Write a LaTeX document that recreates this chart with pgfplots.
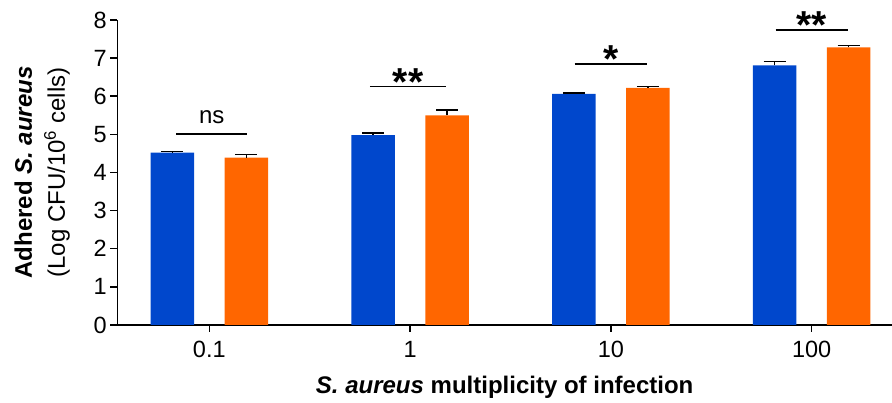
\documentclass[border=0pt]{standalone}
\usepackage{fontspec}
\setmainfont{Liberation Sans}
\usepackage{pgfplots}
\pgfplotsset{compat=1.18}
\definecolor{cblue}{RGB}{0,71,204}
\definecolor{corange}{RGB}{255,102,0}
\begin{document}
\begin{tikzpicture}
\begin{axis}[
  at={(0pt,0pt)}, anchor=south west,
  scale only axis, width=774.7pt, height=305pt,
  xmin=-0.458, xmax=3.4, ymin=0, ymax=8,
  axis lines*=left,
  xtick={0,1,2,3}, xticklabels={0.1,1,10,100},
  ytick={0,1,...,8},
  tick align=outside, major tick length=7pt,
  tick style={line width=1.5pt, black},
  axis line style={line width=1.5pt, black},
  tick label style={font=\fontsize{23.5}{26}\selectfont},
  xticklabel style={yshift=-6pt},
  /pgf/number format/assume math mode=true,
  clip=false,
  xlabel={\textbf{\textit{S. aureus} multiplicity of infection}},
  ylabel={\textbf{Adhered \textit{S. aureus}}\\(Log CFU/10\textsuperscript{6} cells)},
  ylabel style={align=center, font=\fontsize{24}{33}\selectfont, yshift=17pt},
  xlabel style={font=\fontsize{24}{28}\selectfont, yshift=-11pt},
  ybar, bar width=43.5pt,
]
\addplot[ybar, bar shift=-37pt, fill=cblue, draw=none,
  error bars/.cd, y dir=plus, y explicit,
  error bar style={line width=1.5pt, black},
  error mark options={rotate=90, mark size=11pt, line width=1.5pt, black}]
  coordinates {(0,4.52) +- (0,0.03) (1,4.98) +- (0,0.05) (2,6.06) +- (0,0.03) (3,6.81) +- (0,0.10)};
\addplot[ybar, bar shift=37pt, fill=corange, draw=none,
  error bars/.cd, y dir=plus, y explicit,
  error bar style={line width=1.5pt, black},
  error mark options={rotate=90, mark size=11pt, line width=1.5pt, black}]
  coordinates {(0,4.39) +- (0,0.08) (1,5.50) +- (0,0.14) (2,6.22) +- (0,0.03) (3,7.28) +- (0,0.05)};
% significance annotations
\draw[line width=1.5pt] (axis cs:-0.165,5.01) -- (axis cs:0.19,5.01)
  node[pos=0.5, anchor=base, inner sep=0pt, yshift=10pt, font=\fontsize{24}{28}\selectfont] {ns};
\draw[line width=1.5pt] (axis cs:0.8,6.25) -- (axis cs:1.18,6.25)
  node[pos=0.5, anchor=base, inner sep=0pt, yshift=-9pt, font=\fontsize{39}{42}\selectfont\bfseries] {**};
\draw[line width=1.5pt] (axis cs:1.82,6.85) -- (axis cs:2.18,6.85)
  node[pos=0.5, anchor=base, inner sep=0pt, yshift=-9pt, font=\fontsize{39}{42}\selectfont\bfseries] {*};
\draw[line width=1.5pt] (axis cs:2.82,7.74) -- (axis cs:3.18,7.74)
  node[pos=0.5, anchor=base, inner sep=0pt, yshift=-9pt, font=\fontsize{39}{42}\selectfont\bfseries] {**};
\end{axis}
\pgfresetboundingbox
\path (-117.3pt,-78pt) rectangle (774.7pt,325pt);
\end{tikzpicture}
\end{document}
